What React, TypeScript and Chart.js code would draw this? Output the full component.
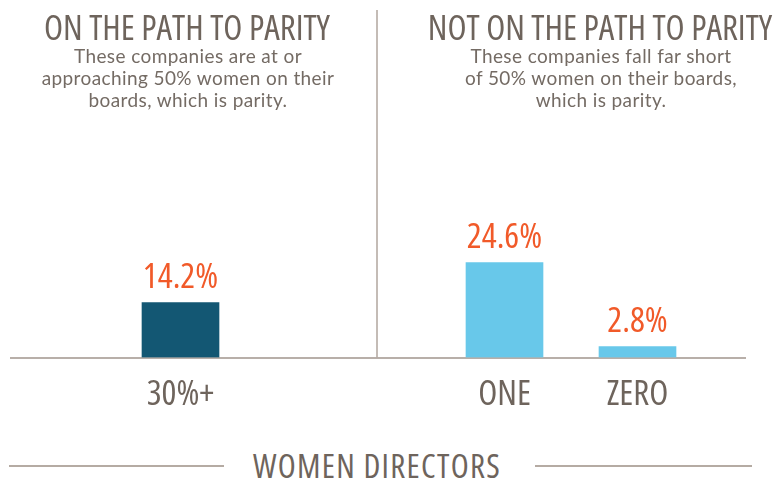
import React, { useEffect, useRef } from "react";
import { Chart, registerables } from "chart.js";

Chart.register(...registerables);

// ---- data ----
const leftCategories = ["30%+"];
const leftValues = [14.2];
const rightCategories = ["ONE", "ZERO"];
const rightValues = [24.6, 2.8];

const leftTitle = "ON THE PATH TO PARITY";
const leftSubtitle = ["These companies are at or", "approaching 50% women on their", "boards, which is parity."];
const rightTitle = "NOT ON THE PATH TO PARITY";
const rightSubtitle = ["These companies fall far short", "of 50% women on their boards,", "which is parity."];
const axisTitle = "WOMEN DIRECTORS";
const yMax = 50;

// ---- styles ----
const COND = '"Open Sans", sans-serif';
const BODY = 'Lato, "Noto Sans", sans-serif';
const TEXT = "#6e645c";
const SUB = "#746b64";
const ORANGE = "#f15a29";
const DARK_BLUE = "#135773";
const LIGHT_BLUE = "#68c8ea";
const RULE = "#a0958c";
const CANVAS_H = 434;

const valueLabels = {
  id: "valueLabels",
  afterDatasetsDraw(chart: any) {
    const ctx = chart.ctx;
    const meta = chart.getDatasetMeta(0);
    const data = chart.data.datasets[0].data as number[];
    ctx.save();
    ctx.font = `condensed 35px ${COND}`;
    ctx.fillStyle = ORANGE;
    ctx.textAlign = "center";
    ctx.textBaseline = "alphabetic";
    meta.data.forEach((bar: any, i: number) => {
      ctx.fillText(`${data[i].toFixed(1)}%`, bar.x, bar.y - 15);
    });
    ctx.restore();
  },
};

const rules = {
  id: "rules",
  beforeDatasetsDraw(chart: any, _args: any, opts: any) {
    const ctx = chart.ctx;
    const y0 = chart.scales.y.getPixelForValue(0);
    ctx.save();
    ctx.strokeStyle = RULE;
    ctx.lineWidth = 1.5;
    ctx.beginPath();
    ctx.moveTo(opts.x0, y0 + 0.5);
    ctx.lineTo(opts.x1, y0 + 0.5);
    ctx.stroke();
    if (opts.divider != null) {
      ctx.strokeStyle = "#b0a69e";
      ctx.beginPath();
      ctx.moveTo(opts.divider, 10);
      ctx.lineTo(opts.divider, y0);
      ctx.stroke();
    }
    ctx.restore();
  },
};

function makeConfig(labels: string[], values: number[], color: string, padL: number, padR: number, ruleOpts: any) {
  return {
    type: "bar" as const,
    data: {
      labels,
      datasets: [{ data: values, backgroundColor: color, barThickness: 77 }],
    },
    options: {
      animation: false as const,
      responsive: false,
      maintainAspectRatio: false,
      layout: { padding: { left: padL, right: padR, top: 164.5, bottom: 0.5 } },
      plugins: {
        legend: { display: false },
        tooltip: { enabled: false },
        rules: ruleOpts,
      },
      scales: {
        x: {
          grid: { display: false, drawTicks: false },
          border: { display: false },
          ticks: { color: TEXT, font: { family: COND, size: 35, weight: "condensed", lineHeight: 1.2 }, padding: 17 },
        },
        y: { display: false, min: 0, max: yMax },
      },
    },
    plugins: [rules, valueLabels],
  };
}

function BarPanel(props: { labels: string[]; values: number[]; color: string; left: number; width: number; padL: number; padR: number; ruleOpts: any }) {
  const ref = useRef<HTMLCanvasElement>(null);
  useEffect(() => {
    if (!ref.current) return;
    const chart = new Chart(ref.current, makeConfig(props.labels, props.values, props.color, props.padL, props.padR, props.ruleOpts) as any);
    return () => chart.destroy();
  }, []);
  return (
    <canvas
      ref={ref}
      width={props.width}
      height={CANVAS_H}
      style={{ position: "absolute", left: props.left, top: 0, width: props.width, height: CANVAS_H }}
    />
  );
}

export default function App() {
  const titleStyle: React.CSSProperties = {
    position: "absolute",
    fontFamily: COND,
    fontStretch: "condensed",
    fontSize: 35,
    lineHeight: "40px",
    color: TEXT,
    textAlign: "center",
    whiteSpace: "nowrap",
  };
  const subStyle: React.CSSProperties = {
    position: "absolute",
    fontFamily: BODY,
    fontSize: 19,
    letterSpacing: "0.4px",
    lineHeight: "22px",
    color: SUB,
    textAlign: "center",
    whiteSpace: "nowrap",
  };
  return (
    <div style={{ position: "fixed", left: 0, top: 0, width: 778, height: 481, background: "#fff", overflow: "hidden" }}>
      <BarPanel labels={leftCategories} values={leftValues} color={DARK_BLUE} left={0} width={378} padL={10} padR={27} ruleOpts={{ x0: 10, x1: 378, divider: 377 }} />
      <BarPanel labels={rightCategories} values={rightValues} color={LIGHT_BLUE} left={378} width={400} padL={60} padR={74} ruleOpts={{ x0: 0, x1: 368, divider: null }} />
      <div style={{ ...titleStyle, left: 0, width: 374, top: 7 }}>{leftTitle}</div>
      <div style={{ ...subStyle, left: 0, width: 376, top: 45 }}>
        {leftSubtitle.map((l, i) => (<div key={i}>{l}</div>))}
      </div>
      <div style={{ ...titleStyle, left: 422, width: 356, top: 7 }}>{rightTitle}</div>
      <div style={{ ...subStyle, left: 424, width: 354, top: 45 }}>
        {rightSubtitle.map((l, i) => (<div key={i}>{l}</div>))}
      </div>
      <div style={{ position: "absolute", left: 9, top: 465, width: 215, height: 2, background: "#b5aba3" }} />
      <div style={{ position: "absolute", left: 535, top: 465, width: 217, height: 2, background: "#b5aba3" }} />
      <div style={{ ...titleStyle, left: 227, width: 300, top: 446, fontSize: 33, letterSpacing: "1.3px" }}>{axisTitle}</div>
    </div>
  );
}
